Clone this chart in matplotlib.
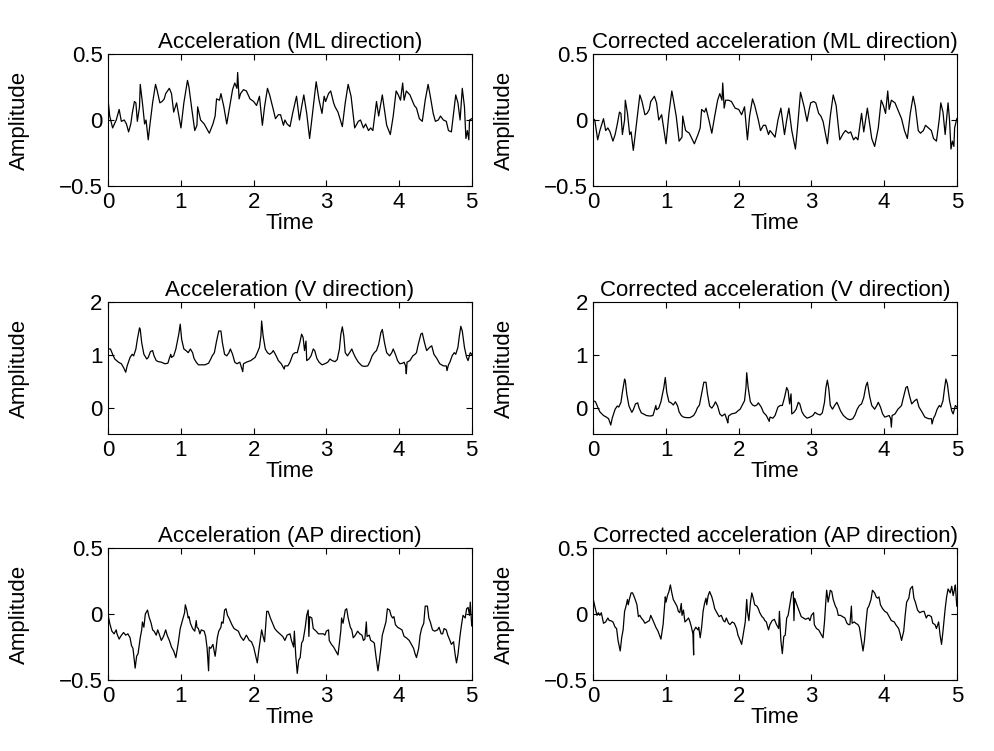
import matplotlib
matplotlib.use("Agg")
import matplotlib.pyplot as plt
from matplotlib.ticker import FuncFormatter

plt.rcParams['font.family'] = ['Liberation Sans', 'DejaVu Sans']

# ---- ML direction (raw) ----
ml_t = [0.00, 0.02, 0.06, 0.11, 0.15, 0.18, 0.22, 0.25, 0.28, 0.31, 0.33, 0.36, 0.38, 0.40, 0.43,
        0.44, 0.47, 0.50, 0.52, 0.55, 0.57, 0.61, 0.65, 0.67, 0.71, 0.74, 0.77, 0.79, 0.84, 0.87,
        0.90, 0.94, 1.00, 1.04, 1.09, 1.11, 1.15, 1.19, 1.22, 1.23, 1.25, 1.27, 1.32, 1.39, 1.44,
        1.47, 1.49, 1.53, 1.55, 1.59, 1.63, 1.67, 1.71, 1.74, 1.77, 1.78, 1.80, 1.82, 1.86, 1.90,
        1.95, 2.00, 2.04, 2.08, 2.12, 2.15, 2.19, 2.22, 2.27, 2.30, 2.34, 2.37, 2.41, 2.43, 2.46,
        2.50, 2.54, 2.59, 2.63, 2.66, 2.69, 2.73, 2.77, 2.81, 2.86, 2.90, 2.94, 2.97, 2.99, 3.03,
        3.06, 3.10, 3.12, 3.16, 3.22, 3.26, 3.30, 3.34, 3.39, 3.44, 3.47, 3.51, 3.54, 3.58, 3.61,
        3.64, 3.67, 3.69, 3.72, 3.77, 3.83, 3.88, 3.92, 3.96, 3.99, 4.02, 4.05, 4.07, 4.10, 4.15,
        4.21, 4.24, 4.28, 4.32, 4.36, 4.40, 4.43, 4.47, 4.50, 4.54, 4.57, 4.61, 4.65, 4.68, 4.72,
        4.76, 4.78, 4.81, 4.84, 4.87, 4.90, 4.92, 4.94, 4.96, 4.97, 5.00]
ml_raw = [0.14, 0.03, -0.06, 0.00, 0.08, -0.01, 0.00, -0.03, -0.09, -0.03, 0.05, 0.14, 0.13, -0.01, 0.10,
          0.27, 0.13, -0.03, 0.00, -0.15, -0.05, 0.13, 0.27, 0.23, 0.13, 0.14, 0.16, 0.20, 0.24, 0.20,
          0.06, 0.13, -0.06, 0.13, 0.30, 0.25, 0.08, -0.08, -0.04, 0.10, 0.05, 0.00, -0.03, -0.10, -0.03,
          0.03, 0.16, 0.15, 0.20, 0.10, -0.03, 0.10, 0.23, 0.28, 0.24, 0.36, 0.16, 0.20, 0.23, 0.22,
          0.16, 0.14, 0.11, 0.18, -0.04, 0.10, 0.24, 0.19, 0.08, 0.01, 0.04, 0.04, -0.04, 0.00, -0.03,
          -0.05, 0.06, 0.18, 0.00, 0.10, 0.19, 0.05, -0.14, 0.05, 0.29, 0.15, 0.05, 0.18, 0.14, 0.20,
          0.22, 0.13, 0.10, 0.06, -0.05, 0.13, 0.27, 0.18, -0.06, -0.01, 0.00, -0.06, -0.03, -0.08, -0.06,
          -0.08, 0.05, 0.14, 0.03, 0.19, -0.04, -0.11, 0.03, 0.22, 0.19, 0.15, 0.28, 0.15, 0.22, 0.19,
          0.11, 0.09, 0.01, -0.01, 0.15, 0.27, 0.18, 0.05, -0.01, 0.00, 0.03, 0.00, -0.01, -0.08, -0.09,
          0.10, 0.19, 0.13, 0.00, 0.24, 0.10, -0.14, -0.08, -0.15, 0.00, 0.01]

# ---- ML direction (corrected) ----
mlc_t = [0.00, 0.02, 0.06, 0.09, 0.14, 0.17, 0.20, 0.23, 0.27, 0.30, 0.33, 0.36, 0.38, 0.40, 0.43,
         0.44, 0.47, 0.50, 0.52, 0.55, 0.57, 0.61, 0.64, 0.67, 0.71, 0.74, 0.77, 0.79, 0.84, 0.87,
         0.90, 0.94, 1.00, 1.04, 1.08, 1.10, 1.14, 1.18, 1.22, 1.23, 1.25, 1.27, 1.32, 1.39, 1.44,
         1.47, 1.49, 1.53, 1.55, 1.59, 1.63, 1.67, 1.71, 1.74, 1.77, 1.78, 1.80, 1.82, 1.86, 1.90,
         1.95, 2.00, 2.04, 2.08, 2.12, 2.15, 2.19, 2.22, 2.27, 2.30, 2.34, 2.37, 2.41, 2.43, 2.46,
         2.50, 2.54, 2.58, 2.63, 2.66, 2.69, 2.73, 2.78, 2.81, 2.85, 2.90, 2.94, 2.97, 2.99, 3.03,
         3.06, 3.10, 3.13, 3.16, 3.22, 3.26, 3.30, 3.34, 3.39, 3.44, 3.47, 3.51, 3.54, 3.58, 3.61,
         3.64, 3.67, 3.69, 3.72, 3.77, 3.83, 3.87, 3.92, 3.96, 3.99, 4.02, 4.05, 4.07, 4.10, 4.15,
         4.21, 4.24, 4.28, 4.32, 4.36, 4.40, 4.43, 4.47, 4.50, 4.54, 4.57, 4.61, 4.65, 4.68, 4.72,
         4.76, 4.78, 4.81, 4.84, 4.88, 4.90, 4.92, 4.94, 4.96, 4.97, 5.00]
ml_corr = [0.01, 0.00, -0.15, -0.08, 0.01, -0.08, -0.06, -0.09, -0.16, -0.11, -0.03, 0.06, 0.05, -0.11, 0.00,
           0.15, 0.05, -0.11, -0.09, -0.23, -0.14, 0.05, 0.19, 0.14, 0.04, 0.05, 0.08, 0.14, 0.18, 0.13,
           0.00, 0.04, -0.18, 0.05, 0.22, 0.16, 0.03, -0.16, -0.13, 0.03, -0.03, -0.08, -0.10, -0.18, -0.11,
           -0.06, 0.08, 0.06, 0.09, 0.00, -0.10, 0.03, 0.15, 0.20, 0.15, 0.28, 0.09, 0.15, 0.15, 0.14,
           0.09, 0.08, 0.04, 0.10, -0.15, 0.03, 0.16, 0.11, 0.00, -0.08, -0.04, -0.04, -0.11, -0.08, -0.10,
           -0.13, 0.00, 0.09, -0.11, 0.00, 0.09, -0.08, -0.22, -0.05, 0.21, 0.10, -0.01, 0.08, 0.13, 0.14,
           0.13, 0.05, 0.03, -0.01, -0.18, 0.03, 0.19, 0.11, -0.15, -0.10, -0.08, -0.10, -0.09, -0.15, -0.13,
           -0.15, -0.03, 0.05, -0.09, 0.09, -0.14, -0.20, -0.06, 0.15, 0.11, 0.05, 0.22, 0.08, 0.15, 0.13,
           0.05, 0.01, -0.08, -0.14, 0.05, 0.18, 0.10, -0.08, -0.10, -0.08, -0.04, -0.06, -0.08, -0.14, -0.16,
           0.01, 0.13, 0.06, -0.11, 0.13, 0.00, -0.22, -0.16, -0.20, -0.06, 0.01]

# ---- V direction (raw and corrected share the time stamps) ----
v_t = [0.00, 0.03, 0.06, 0.09, 0.14, 0.18, 0.21, 0.23, 0.24, 0.26, 0.30, 0.33, 0.35, 0.38, 0.40,
       0.43, 0.44, 0.46, 0.49, 0.53, 0.55, 0.58, 0.61, 0.63, 0.66, 0.69, 0.73, 0.78, 0.82, 0.84,
       0.86, 0.87, 0.90, 0.93, 0.97, 0.99, 1.01, 1.04, 1.07, 1.10, 1.13, 1.16, 1.18, 1.21, 1.24,
       1.28, 1.33, 1.38, 1.41, 1.43, 1.46, 1.49, 1.52, 1.55, 1.57, 1.60, 1.63, 1.66, 1.68, 1.71,
       1.74, 1.77, 1.81, 1.84, 1.85, 1.86, 1.90, 1.96, 1.99, 2.02, 2.05, 2.08, 2.10, 2.11, 2.13,
       2.16, 2.19, 2.22, 2.25, 2.27, 2.31, 2.34, 2.38, 2.42, 2.43, 2.47,
       2.50, 2.54, 2.57, 2.60, 2.63, 2.66, 2.68, 2.70, 2.72, 2.73, 2.76, 2.79, 2.82, 2.84, 2.87,
       2.90, 2.94, 2.98, 3.02, 3.05, 3.08, 3.12, 3.15, 3.18, 3.20, 3.22, 3.24, 3.26, 3.29, 3.32,
       3.35, 3.37, 3.40, 3.44, 3.49, 3.53, 3.57, 3.60, 3.63, 3.66, 3.69, 3.72, 3.75, 3.77, 3.80,
       3.83, 3.87, 3.90, 3.92, 3.95, 3.98, 4.01, 4.05, 4.07, 4.09, 4.10, 4.11, 4.15, 4.19, 4.22,
       4.24, 4.26, 4.30, 4.32, 4.35, 4.38, 4.42, 4.45, 4.48, 4.52, 4.56, 4.61, 4.65, 4.66, 4.68,
       4.70, 4.73, 4.76, 4.78, 4.81, 4.83, 4.85, 4.87, 4.90, 4.93, 4.95, 4.98, 5.00]
v_raw = [1.11, 1.11, 1.01, 0.92, 0.86, 0.83, 0.76, 0.70, 0.67, 0.79, 0.95, 1.01, 0.98, 1.11, 1.29,
         1.51, 1.48, 1.23, 1.01, 0.92, 0.95, 1.06, 1.08, 0.98, 0.89, 0.87, 0.86, 0.83, 0.84, 0.93,
         1.01, 0.95, 0.98, 1.11, 1.39, 1.58, 1.29, 1.11, 1.08, 1.04, 1.11, 1.04, 0.93, 0.86, 0.81,
         0.81, 0.81, 0.84, 0.92, 0.98, 1.04, 1.26, 1.45, 1.45, 1.23, 1.01, 0.98, 1.04, 1.11, 1.01,
         0.86, 0.83, 0.86, 0.73, 0.68, 0.83, 0.86, 0.89, 0.92, 0.95, 1.04, 1.14, 1.36, 1.64, 1.36,
         1.11, 1.04, 1.01, 1.04, 1.08, 0.98, 0.89, 0.83, 0.73, 0.79, 0.79,
         0.86, 1.01, 1.04, 1.04, 1.20, 1.39, 1.33, 1.08, 1.26, 0.89, 0.92, 0.98, 1.11, 1.08, 0.93,
         0.86, 0.81, 0.83, 0.86, 0.92, 0.89, 0.87, 0.91, 1.11, 1.39, 1.53, 1.36, 1.04, 0.98, 1.04,
         1.11, 1.04, 0.95, 0.86, 0.79, 0.78, 0.79, 0.87, 0.98, 1.04, 1.08, 1.20, 1.42, 1.48, 1.23,
         1.04, 0.98, 1.04, 1.11, 1.01, 0.89, 0.83, 0.84, 0.86, 0.79, 0.64, 0.86, 0.89, 0.98, 1.01,
         1.04, 1.17, 1.39, 1.41, 1.23, 1.08, 1.14, 1.17, 1.01, 0.93, 0.83, 0.79, 0.79, 0.70, 0.81,
         0.86, 0.98, 1.04, 1.01, 1.14, 1.36, 1.54, 1.45, 1.14, 0.95, 0.89, 1.04, 1.01]
v_corr = [0.13, 0.11, 0.01, -0.08, -0.15, -0.18, -0.21, -0.29, -0.33, -0.20, -0.03, 0.03, 0.01, 0.10, 0.29,
          0.54, 0.51, 0.26, 0.03, -0.09, -0.04, 0.07, 0.09, -0.01, -0.10, -0.12, -0.15, -0.16, -0.15, -0.06,
          0.04, -0.04, -0.01, 0.11, 0.38, 0.57, 0.29, 0.11, 0.09, 0.05, 0.11, 0.03, -0.08, -0.15, -0.18,
          -0.19, -0.19, -0.15, -0.08, -0.01, 0.05, 0.26, 0.48, 0.48, 0.26, 0.03, -0.01, 0.05, 0.11, 0.03,
          -0.12, -0.16, -0.12, -0.24, -0.29, -0.16, -0.12, -0.10, -0.06, -0.03, 0.05, 0.13, 0.38, 0.66, 0.38,
          0.11, 0.05, 0.03, 0.05, 0.09, 0.01, -0.09, -0.15, -0.26, -0.18, -0.20,
          -0.15, 0.01, 0.04, 0.04, 0.19, 0.38, 0.32, 0.07, 0.26, -0.12, -0.09, -0.03, 0.10, 0.07, -0.08,
          -0.15, -0.20, -0.18, -0.15, -0.09, -0.12, -0.14, -0.10, 0.10, 0.38, 0.52, 0.35, 0.04, -0.03, 0.04,
          0.10, 0.04, -0.06, -0.15, -0.21, -0.23, -0.21, -0.14, -0.03, 0.04, 0.07, 0.19, 0.41, 0.48, 0.22,
          0.04, -0.03, 0.04, 0.10, 0.01, -0.12, -0.18, -0.16, -0.15, -0.21, -0.37, -0.15, -0.12, -0.03, 0.01,
          0.04, 0.16, 0.38, 0.40, 0.22, 0.07, 0.13, 0.16, 0.01, -0.08, -0.18, -0.21, -0.21, -0.31, -0.20,
          -0.15, -0.03, 0.04, 0.01, 0.13, 0.35, 0.54, 0.45, 0.13, -0.06, -0.12, 0.04, 0.01]

# ---- AP direction (raw) ----
ap_t = [0.00, 0.02, 0.05, 0.08, 0.11, 0.12, 0.15, 0.17, 0.21, 0.24, 0.27, 0.30, 0.32, 0.34, 0.37,
        0.39, 0.41, 0.44, 0.46, 0.47, 0.49, 0.51, 0.54, 0.56, 0.59, 0.61, 0.63, 0.66, 0.68, 0.70,
        0.73, 0.76, 0.79, 0.81, 0.84, 0.87, 0.90, 0.93, 0.96, 0.99, 1.01, 1.03, 1.05, 1.06, 1.08,
        1.10, 1.11, 1.13, 1.16, 1.19, 1.21, 1.22, 1.24, 1.26, 1.28, 1.32, 1.34, 1.36, 1.38, 1.39,
        1.41, 1.44, 1.47, 1.48, 1.50, 1.52, 1.55, 1.56, 1.58, 1.60, 1.62, 1.64, 1.66, 1.70, 1.73,
        1.76, 1.79, 1.82, 1.86, 1.90, 1.94, 1.97, 2.00, 2.03, 2.05, 2.07, 2.09, 2.11, 2.13, 2.15,
        2.18, 2.20, 2.23, 2.26, 2.29, 2.32, 2.36, 2.40, 2.43, 2.46,
        2.50, 2.52, 2.55, 2.56, 2.58, 2.60, 2.62, 2.64, 2.66, 2.68, 2.71, 2.73, 2.75, 2.76, 2.77,
        2.80, 2.82, 2.86, 2.89, 2.92, 2.96, 2.98, 3.00, 3.03, 3.04, 3.07, 3.10, 3.13, 3.16, 3.18,
        3.20, 3.21, 3.23, 3.26, 3.28, 3.30, 3.33, 3.35, 3.37, 3.40, 3.43, 3.46, 3.49, 3.51, 3.53,
        3.55, 3.56, 3.59, 3.61, 3.64, 3.66, 3.68, 3.71, 3.73, 3.75, 3.77, 3.79, 3.82, 3.84, 3.87,
        3.89, 3.91, 3.93, 3.95, 3.98, 4.01, 4.04, 4.07, 4.10, 4.14, 4.16, 4.20, 4.22, 4.24, 4.27,
        4.29, 4.31, 4.34, 4.36, 4.39, 4.41, 4.43, 4.46, 4.49, 4.53, 4.55, 4.58, 4.60, 4.62, 4.65,
        4.67, 4.70, 4.72, 4.75, 4.77, 4.79, 4.81, 4.84, 4.86, 4.88, 4.91, 4.93, 4.95, 4.97, 4.98, 5.00]
ap_raw = [-0.01, -0.07, -0.13, -0.15, -0.12, -0.15, -0.19, -0.17, -0.14, -0.16, -0.15, -0.18, -0.24, -0.26, -0.41,
          -0.32, -0.30, -0.18, -0.12, -0.06, -0.10, 0.00, 0.03, -0.02, -0.07, -0.12, -0.13, -0.16, -0.12, -0.15,
          -0.20, -0.17, -0.12, -0.16, -0.20, -0.25, -0.28, -0.33, -0.23, -0.11, -0.07, -0.03, 0.01, 0.07, 0.03,
          -0.03, -0.02, -0.07, -0.11, -0.13, -0.05, -0.10, -0.11, -0.15, -0.12, -0.13, -0.17, -0.26, -0.43, -0.25,
          -0.26, -0.23, -0.32, -0.28, -0.18, -0.13, -0.10, -0.06, -0.07, 0.03, 0.04, -0.01, -0.03, -0.08, -0.11,
          -0.12, -0.13, -0.17, -0.20, -0.16, -0.20, -0.21, -0.25, -0.32, -0.37, -0.28, -0.20, -0.12, -0.17, -0.21,
          0.02, 0.02, -0.03, -0.07, -0.11, -0.13, -0.15, -0.17, -0.20, -0.16,
          -0.15, -0.20, -0.25, -0.13, -0.32, -0.45, -0.35, -0.33, -0.22, -0.20, -0.10, -0.01, 0.03, -0.17, -0.02,
          -0.03, -0.11, -0.13, -0.15, -0.15, -0.15, -0.16, -0.13, -0.12, -0.20, -0.23, -0.25, -0.28, -0.31, -0.22,
          -0.12, -0.03, -0.07, 0.03, 0.04, -0.03, -0.10, -0.12, -0.18, -0.16, -0.13, -0.15, -0.16, -0.20, -0.19,
          -0.06, -0.17, -0.16, -0.20, -0.21, -0.22, -0.31, -0.43, -0.35, -0.26, -0.16, -0.12, -0.06, 0.04, 0.03,
          -0.01, -0.03, -0.02, -0.08, -0.10, -0.11, -0.12, -0.17, -0.18, -0.20, -0.22, -0.26, -0.30, -0.33, -0.26,
          -0.16, -0.11, -0.07, 0.06, 0.06, -0.03, -0.06, -0.12, -0.13, -0.12, -0.10, -0.15, -0.15, -0.11, -0.12,
          -0.16, -0.20, -0.23, -0.21, -0.30, -0.37, -0.31, -0.16, -0.08, -0.01, -0.03, 0.04, 0.05, -0.01, 0.09, -0.09]

# ---- AP direction (corrected) ----
apc_t = [0.00, 0.02, 0.05, 0.07, 0.09, 0.11, 0.14, 0.17, 0.20, 0.22, 0.24, 0.27, 0.30, 0.32, 0.34,
         0.37, 0.39, 0.41, 0.43, 0.45, 0.47, 0.48, 0.50, 0.52, 0.54, 0.57, 0.60, 0.62, 0.64, 0.66,
         0.69, 0.71, 0.74, 0.77, 0.79, 0.83, 0.86, 0.89, 0.93, 0.96, 0.99, 1.00, 1.02, 1.04, 1.06,
         1.08, 1.10, 1.12, 1.15, 1.17, 1.19, 1.21, 1.22, 1.24, 1.26, 1.28, 1.31, 1.33, 1.35, 1.37,
         1.38, 1.38, 1.41, 1.44, 1.45, 1.47, 1.49, 1.51, 1.53, 1.55, 1.56, 1.58, 1.60, 1.63, 1.65,
         1.67, 1.70, 1.73, 1.76, 1.79, 1.81, 1.83, 1.86, 1.88, 1.91, 1.94, 1.97, 1.99, 2.02, 2.04,
         2.06, 2.09, 2.11, 2.12, 2.14, 2.16, 2.18, 2.20, 2.22, 2.25, 2.27, 2.29, 2.32, 2.34, 2.36,
         2.38, 2.41, 2.43, 2.46, 2.49,
         2.52, 2.55, 2.56, 2.58, 2.60, 2.62, 2.64, 2.66, 2.68, 2.71, 2.73, 2.75, 2.76, 2.77,
         2.80, 2.82, 2.86, 2.89, 2.92, 2.96, 2.98, 3.00, 3.03, 3.04, 3.07, 3.10, 3.13, 3.16, 3.18,
         3.20, 3.21, 3.23, 3.26, 3.28, 3.30, 3.33, 3.35, 3.37, 3.40, 3.43, 3.46, 3.49, 3.51, 3.53,
         3.55, 3.56, 3.59, 3.61, 3.64, 3.66, 3.68, 3.71, 3.73, 3.75, 3.77, 3.79, 3.82, 3.84, 3.87,
         3.89, 3.91, 3.93, 3.95, 3.98, 4.01, 4.04, 4.07, 4.10, 4.14, 4.16, 4.20, 4.22, 4.24, 4.27,
         4.29, 4.31, 4.34, 4.36, 4.39, 4.41, 4.43, 4.46, 4.49, 4.53, 4.55, 4.58, 4.60, 4.62, 4.65,
         4.67, 4.70, 4.72, 4.75, 4.77, 4.79, 4.81, 4.84, 4.86, 4.88, 4.91, 4.93, 4.95, 4.97, 4.98, 5.00]
ap_corr = [0.11, 0.06, -0.01, 0.01, -0.01, 0.01, -0.07, -0.06, -0.03, -0.05, -0.05, -0.06, -0.10, -0.11, -0.20,
           -0.28, -0.18, -0.12, 0.02, 0.06, 0.11, 0.07, 0.12, 0.16, 0.16, 0.12, 0.07, -0.02, -0.01, -0.03,
           -0.05, -0.07, -0.06, -0.05, -0.01, -0.06, -0.10, -0.13, -0.19, -0.08, 0.13, 0.09, 0.14, 0.17, 0.22,
           0.16, 0.11, 0.09, 0.06, 0.02, 0.01, 0.08, -0.01, 0.03, -0.06, -0.05, -0.03, -0.06, -0.10, -0.15,
           -0.31, -0.13, -0.10, -0.12, -0.10, -0.18, -0.10, 0.02, 0.08, 0.12, 0.07, 0.14, 0.17, 0.13, 0.09,
           0.04, 0.01, -0.02, -0.01, -0.05, -0.06, -0.03, -0.07, -0.08, -0.06, -0.07, -0.11, -0.16, -0.20, -0.23,
           -0.16, -0.06, 0.11, 0.02, -0.05, 0.08, 0.16, 0.12, 0.07, 0.06, 0.04, 0.01, -0.02, -0.03, -0.05,
           -0.06, -0.12, -0.08, -0.05, -0.04,
           -0.08, -0.11, 0.02, -0.20, -0.30, -0.17, -0.16, -0.03, -0.01, 0.09, 0.16, 0.17, -0.05, 0.12,
           0.07, 0.04, -0.02, -0.03, -0.04, -0.03, -0.05, -0.01, 0.01, -0.08, -0.11, -0.12, -0.15, -0.18, -0.06,
           0.11, 0.18, 0.09, 0.18, 0.17, 0.11, 0.06, 0.04, -0.01, -0.01, -0.02, -0.03, -0.07, -0.08, -0.08,
           0.06, -0.07, -0.06, -0.07, -0.08, -0.10, -0.17, -0.28, -0.20, -0.07, 0.04, 0.06, 0.11, 0.18, 0.16,
           0.13, 0.12, 0.13, 0.07, 0.04, 0.02, 0.01, -0.02, -0.05, -0.06, -0.08, -0.11, -0.15, -0.20, -0.13,
           -0.01, 0.09, 0.12, 0.19, 0.21, 0.12, 0.09, 0.03, 0.01, 0.02, 0.02, -0.03, -0.01, -0.01, -0.02,
           -0.07, -0.08, -0.11, -0.06, -0.16, -0.23, -0.13, 0.04, 0.13, 0.19, 0.16, 0.21, 0.14, 0.19, 0.22, 0.06]

titles = ['Acceleration (ML direction)', 'Corrected acceleration (ML direction)',
          'Acceleration (V direction)', 'Corrected acceleration (V direction)',
          'Acceleration (AP direction)', 'Corrected acceleration (AP direction)']
series = [(ml_t, ml_raw), (mlc_t, ml_corr), (v_t, v_raw), (v_t, v_corr), (ap_t, ap_raw), (apc_t, ap_corr)]
ylims = [(-0.5, 0.5), (-0.5, 0.5), (-0.5, 2), (-0.5, 2), (-0.5, 0.5), (-0.5, 0.5)]
yticks = [[-0.5, 0, 0.5], [-0.5, 0, 0.5], [0, 1, 2], [0, 1, 2], [-0.5, 0, 0.5], [-0.5, 0, 0.5]]

fmt = FuncFormatter(lambda v, p: f'{v:g}'.replace('-', '\u2212'))

fig = plt.figure(figsize=(9.95, 7.51), dpi=100)
lefts = [0.1088, 0.5963]
bottoms = [0.7523, 0.4221, 0.0945]
w, h = 0.3653, 0.1758
fs = 16

for i in range(6):
    ax = fig.add_axes([lefts[i % 2], bottoms[i // 2], w, h])
    t, y = series[i]
    ax.plot(t, y, color='black', linewidth=0.9)
    ax.set_xlim(0, 5)
    ax.set_ylim(*ylims[i])
    ax.set_xticks([0, 1, 2, 3, 4, 5])
    ax.set_yticks(yticks[i])
    ax.yaxis.set_major_formatter(fmt)
    ax.tick_params(direction='in', top=True, right=True, length=4, width=0.8,
                   labelsize=fs, pad=4)
    for s in ax.spines.values():
        s.set_linewidth(0.8)
    ax.set_title(titles[i], fontsize=fs, pad=4)
    ax.set_xlabel('Time', fontsize=fs, labelpad=0)
    ax.set_ylabel('Amplitude', fontsize=fs)
    ax.yaxis.set_label_coords(-0.215, 0.5)

fig.savefig('out.png', dpi=100)
